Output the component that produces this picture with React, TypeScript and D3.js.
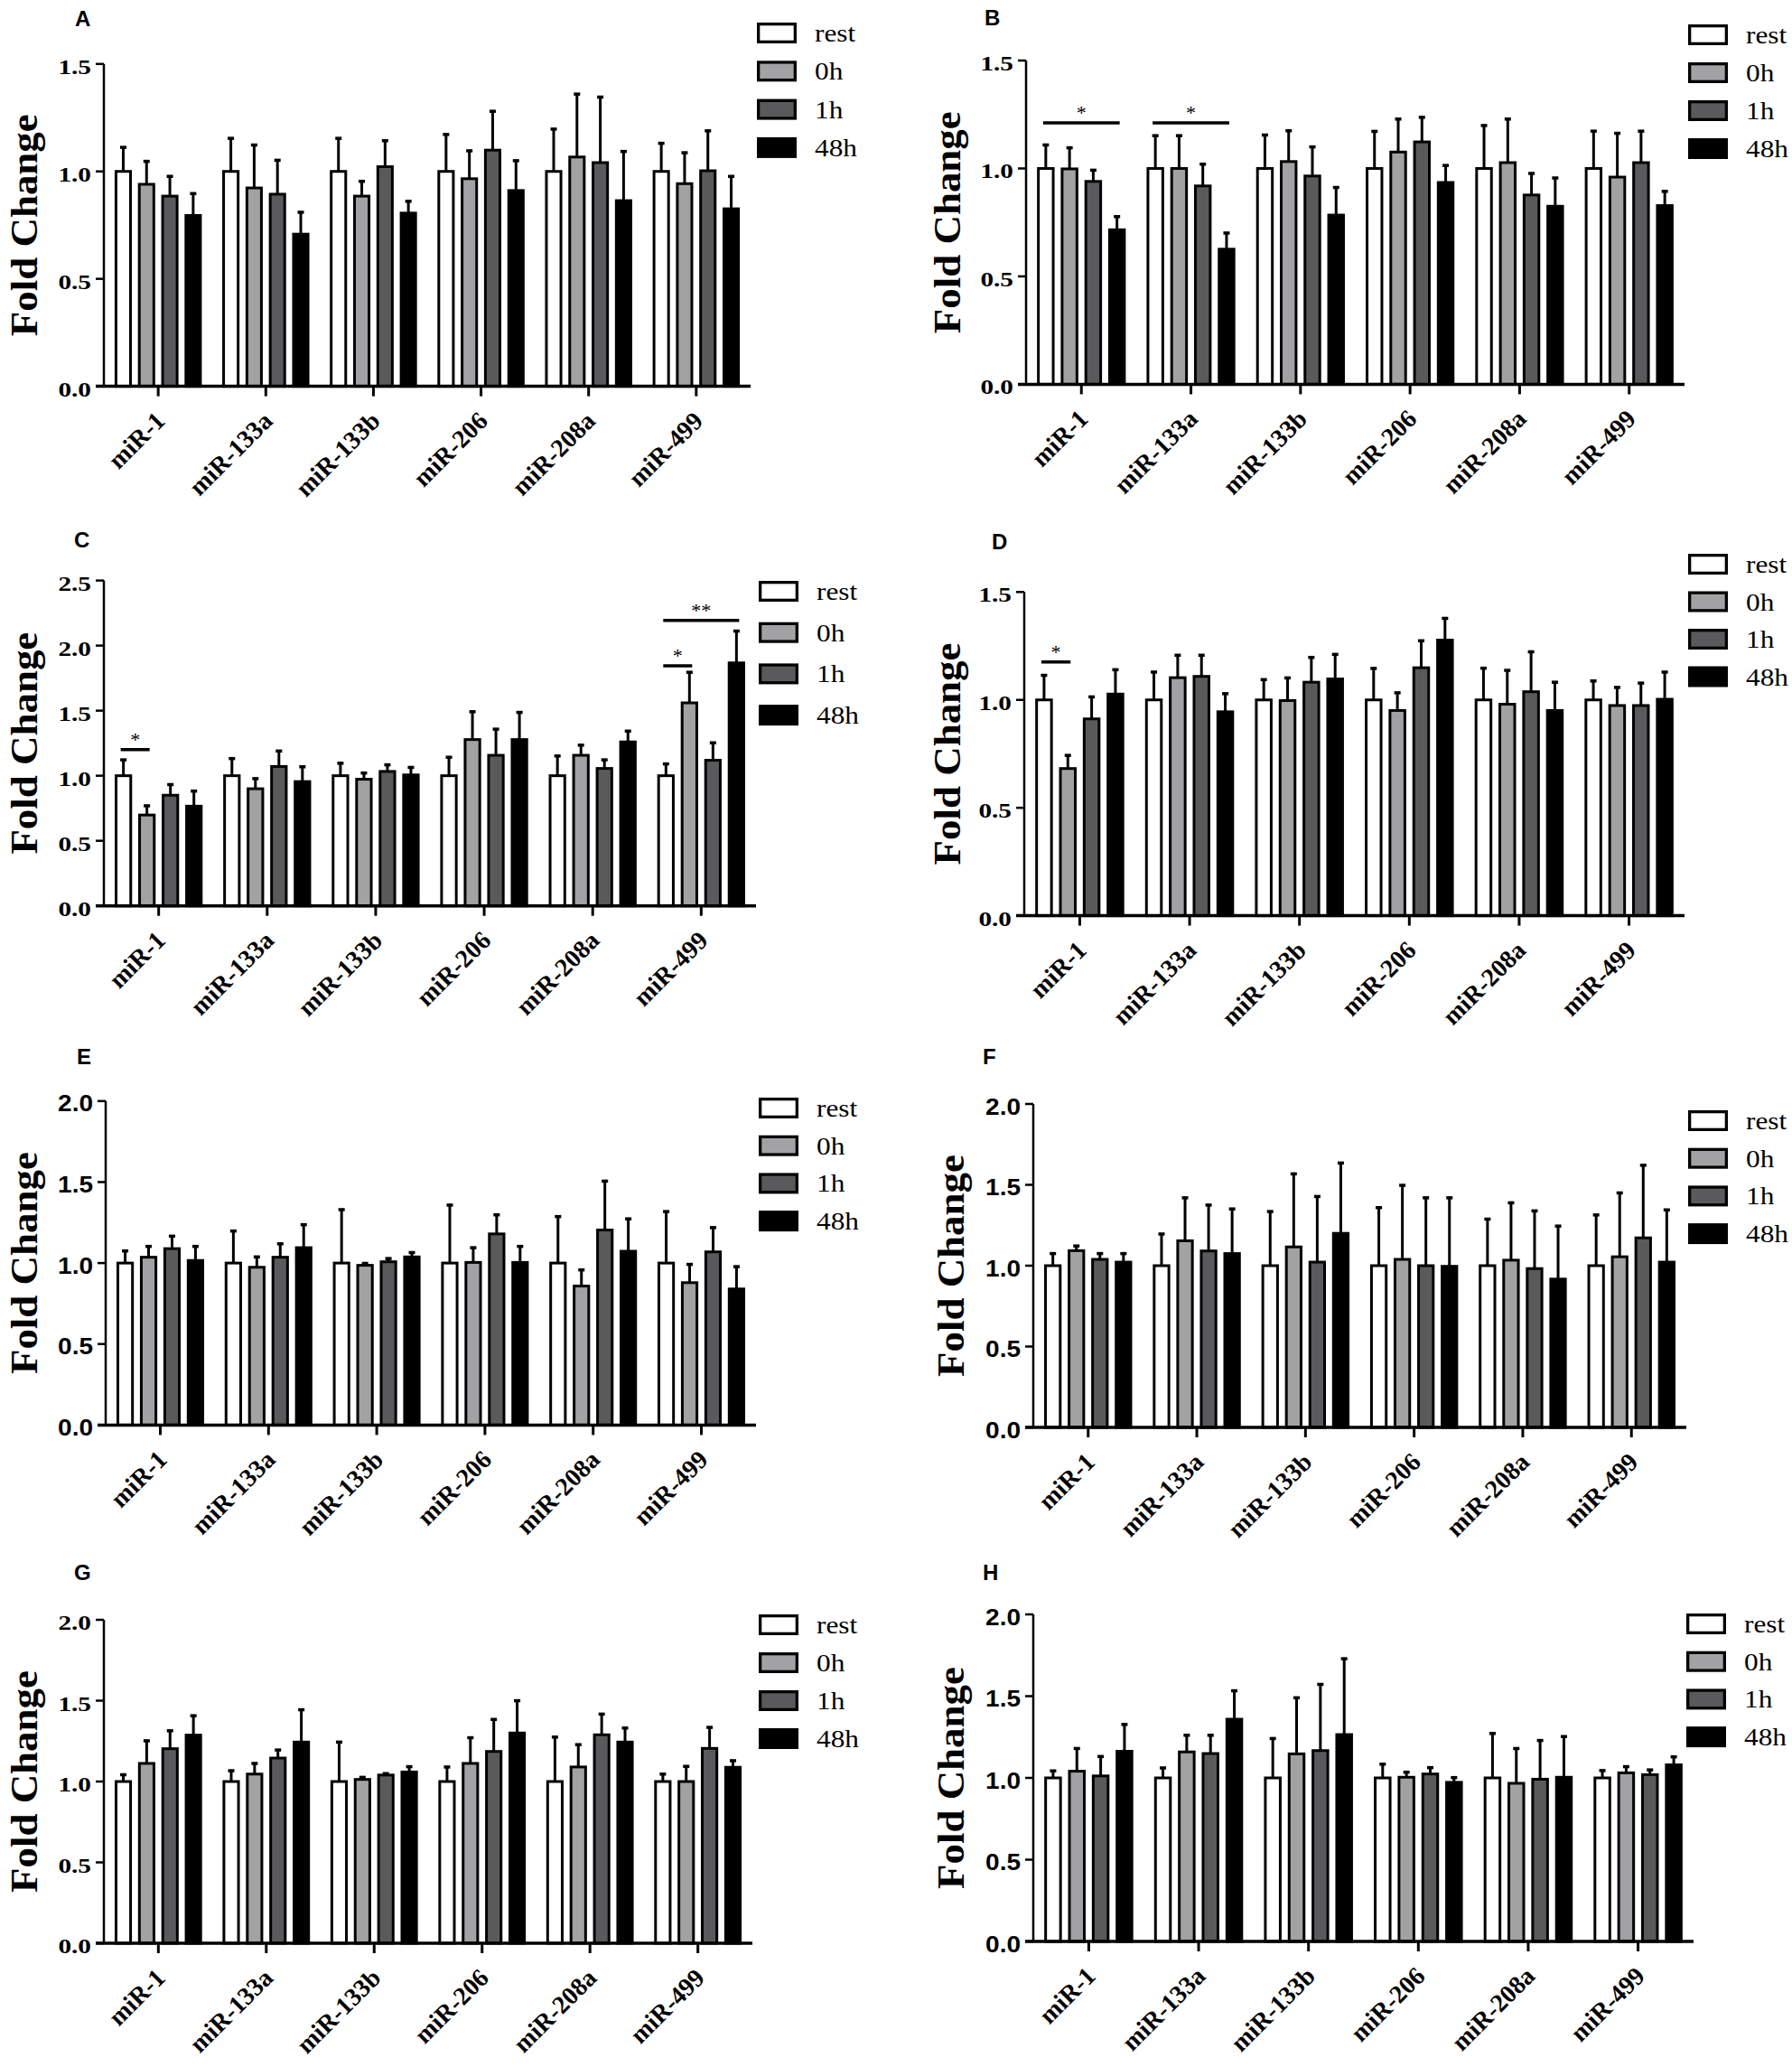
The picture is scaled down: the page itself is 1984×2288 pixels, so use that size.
import React from "react";
import * as d3 from "d3";

// ---- data -------------------------------------------------------------
const categories = ["miR-1", "miR-133a", "miR-133b", "miR-206", "miR-208a", "miR-499"];
const series = ["rest", "0h", "1h", "48h"];
const seriesFill: Record<string, string> = { rest: "#ffffff", "0h": "#a2a2a4", "1h": "#5a5a5c", "48h": "#000000" };

// rows = categories, columns = series (rest, 0h, 1h, 48h)
const meanA = [[1.0, 0.94, 0.885, 0.795], [1.0, 0.923, 0.894, 0.708], [1.0, 0.885, 1.022, 0.806], [1.0, 0.966, 1.099, 0.911], [1.0, 1.067, 1.041, 0.864], [1.0, 0.943, 1.003, 0.826]];
const semA = [[0.115, 0.11, 0.095, 0.105], [0.157, 0.203, 0.161, 0.105], [0.157, 0.072, 0.124, 0.058], [0.175, 0.133, 0.184, 0.142], [0.2, 0.296, 0.308, 0.232], [0.134, 0.147, 0.189, 0.154]];

const meanB = [[1.0, 0.998, 0.94, 0.716], [1.0, 1.0, 0.919, 0.626], [1.0, 1.032, 0.965, 0.784], [1.0, 1.076, 1.123, 0.935], [1.0, 1.027, 0.877, 0.825], [1.0, 0.96, 1.027, 0.828]];
const semB = [[0.112, 0.101, 0.055, 0.064], [0.155, 0.155, 0.104, 0.078], [0.158, 0.146, 0.138, 0.131], [0.175, 0.156, 0.117, 0.082], [0.202, 0.205, 0.103, 0.134], [0.176, 0.206, 0.149, 0.069]];

const meanC = [[1.0, 0.698, 0.85, 0.766], [1.0, 0.9, 1.071, 0.955], [1.0, 0.973, 1.033, 1.006], [1.0, 1.278, 1.157, 1.278], [1.0, 1.157, 1.056, 1.26], [1.0, 1.56, 1.119, 1.867]];
const semC = [[0.127, 0.076, 0.087, 0.121], [0.137, 0.083, 0.124, 0.119], [0.101, 0.053, 0.056, 0.063], [0.147, 0.219, 0.206, 0.214], [0.157, 0.083, 0.071, 0.088], [0.096, 0.24, 0.139, 0.25]];

const meanD = [[1.0, 0.682, 0.912, 1.027], [1.0, 1.103, 1.109, 0.945], [1.0, 0.997, 1.082, 1.097], [1.0, 0.951, 1.149, 1.277], [1.0, 0.98, 1.038, 0.951], [1.0, 0.974, 0.974, 1.003]];
const semD = [[0.117, 0.064, 0.105, 0.116], [0.132, 0.107, 0.101, 0.087], [0.097, 0.108, 0.118, 0.117], [0.149, 0.085, 0.128, 0.104], [0.15, 0.16, 0.188, 0.134], [0.091, 0.087, 0.107, 0.129]];

const meanE = [[1.0, 1.036, 1.089, 1.016], [1.0, 0.974, 1.036, 1.095], [1.0, 0.986, 1.008, 1.038], [1.0, 1.004, 1.18, 1.004], [1.0, 0.858, 1.204, 1.073], [1.0, 0.879, 1.069, 0.84]];
const semE = [[0.079, 0.071, 0.081, 0.091], [0.202, 0.068, 0.087, 0.146], [0.334, 0.016, 0.024, 0.031], [0.362, 0.095, 0.122, 0.103], [0.291, 0.104, 0.306, 0.204], [0.322, 0.117, 0.154, 0.142]];

const meanF = [[1.0, 1.093, 1.039, 1.022], [1.0, 1.154, 1.091, 1.075], [1.0, 1.116, 1.022, 1.2], [1.0, 1.039, 1.0, 0.996], [1.0, 1.034, 0.982, 0.917], [1.0, 1.055, 1.172, 1.022]];
const semF = [[0.079, 0.033, 0.04, 0.057], [0.2, 0.27, 0.288, 0.28], [0.339, 0.456, 0.41, 0.439], [0.363, 0.462, 0.424, 0.428], [0.292, 0.359, 0.361, 0.332], [0.318, 0.399, 0.453, 0.327]];

const meanG = [[1.0, 1.112, 1.203, 1.287], [1.0, 1.046, 1.145, 1.244], [1.0, 1.013, 1.04, 1.059], [1.0, 1.112, 1.186, 1.3], [1.0, 1.09, 1.289, 1.244], [1.0, 1.0, 1.205, 1.088]];
const semG = [[0.046, 0.144, 0.115, 0.124], [0.071, 0.07, 0.054, 0.204], [0.248, 0.017, 0.013, 0.037], [0.094, 0.163, 0.202, 0.204], [0.279, 0.142, 0.132, 0.091], [0.05, 0.098, 0.134, 0.045]];

const meanH = [[1.0, 1.041, 1.012, 1.163], [1.0, 1.159, 1.149, 1.359], [1.0, 1.147, 1.167, 1.265], [1.0, 1.004, 1.024, 0.973], [1.0, 0.967, 0.992, 1.004], [1.0, 1.031, 1.02, 1.08]];
const semH = [[0.047, 0.143, 0.123, 0.168], [0.065, 0.106, 0.116, 0.178], [0.245, 0.347, 0.409, 0.468], [0.088, 0.035, 0.043, 0.033], [0.276, 0.217, 0.241, 0.253], [0.049, 0.042, 0.033, 0.053]];

type Sig = { cat: string; from: string; to: string; y: number; label: string };
const sigB: Sig[] = [
  { cat: "miR-1", from: "rest", to: "48h", y: 1.211, label: "*" },
  { cat: "miR-133a", from: "rest", to: "48h", y: 1.211, label: "*" },
];
const sigC: Sig[] = [
  { cat: "miR-1", from: "rest", to: "0h", y: 1.2, label: "*" },
  { cat: "miR-499", from: "rest", to: "0h", y: 1.845, label: "*" },
  { cat: "miR-499", from: "rest", to: "48h", y: 2.193, label: "**" },
];
const sigD: Sig[] = [{ cat: "miR-1", from: "rest", to: "0h", y: 1.176, label: "*" }];

// ---- layout -----------------------------------------------------------
type Layout = {
  letter: string; axisX: number; xEnd: number; yTop: number; yZero: number; yMax: number;
  letterX: number; letterY: number; legendX: number; legendY: number; legendGap: number;
  titleX: number; sans: boolean;
};

const panels: { layout: Layout; mean: number[][]; sem: number[][]; sig: Sig[] }[] = [
  { mean: meanA, sem: semA, sig: [], layout: { letter: "A", axisX: 115, xEnd: 831, yTop: 70.8, yZero: 427.6, yMax: 1.5, letterX: 83, letterY: 29, legendX: 838, legendY: 25, legendGap: 42.3, titleX: 41, sans: false } },
  { mean: meanB, sem: semB, sig: sigB, layout: { letter: "B", axisX: 1136, xEnd: 1865, yTop: 67, yZero: 425.4, yMax: 1.5, letterX: 1090, letterY: 28, legendX: 1869, legendY: 27, legendGap: 42, titleX: 1063, sans: false } },
  { mean: meanC, sem: semC, sig: sigC, layout: { letter: "C", axisX: 115, xEnd: 837, yTop: 642.6, yZero: 1002.7, yMax: 2.5, letterX: 82, letterY: 606, legendX: 840, legendY: 643, legendGap: 45.7, titleX: 41, sans: false } },
  { mean: meanD, sem: semD, sig: sigD, layout: { letter: "D", axisX: 1134, xEnd: 1865, yTop: 655.3, yZero: 1013.6, yMax: 1.5, letterX: 1098, letterY: 608, legendX: 1869, legendY: 613, legendGap: 41.5, titleX: 1063, sans: false } },
  { mean: meanE, sem: semE, sig: [], layout: { letter: "E", axisX: 117, xEnd: 837, yTop: 1218.8, yZero: 1577.4, yMax: 2.0, letterX: 85, letterY: 1178, legendX: 840, legendY: 1215, legendGap: 41.7, titleX: 41, sans: true } },
  { mean: meanF, sem: semF, sig: [], layout: { letter: "F", axisX: 1144, xEnd: 1867, yTop: 1222, yZero: 1580, yMax: 2.0, letterX: 1088, letterY: 1178, legendX: 1869, legendY: 1229, legendGap: 41.7, titleX: 1067, sans: true } },
  { mean: meanG, sem: semG, sig: [], layout: { letter: "G", axisX: 115, xEnd: 833, yTop: 1793, yZero: 2151, yMax: 2.0, letterX: 82, letterY: 1749, legendX: 840, legendY: 1787, legendGap: 42, titleX: 41, sans: false } },
  { mean: meanH, sem: semH, sig: [], layout: { letter: "H", axisX: 1144, xEnd: 1875, yTop: 1787, yZero: 2149, yMax: 2.0, letterX: 1088, letterY: 1749, legendX: 1867, legendY: 1786, legendGap: 41.7, titleX: 1067, sans: true } },
];

const SERIF = "'Liberation Serif', 'Times New Roman', serif";
const SANS = "'Liberation Sans', Arial, sans-serif";

function Panel({ layout: L, mean, sem, sig }: { layout: Layout; mean: number[][]; sem: number[][]; sig: Sig[] }) {
  const x0 = d3.scaleBand<string>().domain(categories).range([L.axisX, L.xEnd]).paddingInner(0.19).paddingOuter(0.1);
  const x1 = d3.scaleBand<string>().domain(series).range([0, x0.bandwidth()]).paddingInner(0.26);
  const y = d3.scaleLinear().domain([0, L.yMax]).range([L.yZero, L.yTop]);
  const ticks = d3.range(0, L.yMax + 0.001, 0.5);
  const bw = x1.bandwidth();
  const fmt = d3.format(".1f");
  const cx = (c: string, s: string) => (x0(c) ?? 0) + (x1(s) ?? 0) + bw / 2;

  return (
    <g>
      <text x={L.letterX} y={L.letterY} fontFamily={SANS} fontWeight="bold" fontSize={24}>{L.letter}</text>
      <text transform={`translate(${L.titleX},${(L.yTop + L.yZero) / 2}) rotate(-90) scale(1.07,1)`} textAnchor="middle"
            fontFamily={SERIF} fontWeight="bold" fontSize={42}>Fold Change</text>

      {/* bars */}
      {categories.map((c, i) => (
        <g key={c}>
          {series.map((s, j) => {
            const m = mean[i][j];
            const top = y(m + sem[i][j]);
            const x = cx(c, s);
            return (
              <g key={s}>
                <line x1={x} x2={x} y1={y(m)} y2={top} stroke="#000" strokeWidth={3} />
                <rect x={x - 3.5} y={top - 1} width={7} height={3.5} fill="#000" />
                <rect x={x - bw / 2 + 1.5} y={y(m)} width={bw - 3} height={L.yZero - y(m)} fill={seriesFill[s]} stroke="#000" strokeWidth={3} />
              </g>
            );
          })}
        </g>
      ))}

      {/* significance */}
      {sig.map((d, i) => {
        const xa = cx(d.cat, d.from) - 3;
        const xb = cx(d.cat, d.to) + 3;
        return (
          <g key={i}>
            <line x1={xa} x2={xb} y1={y(d.y)} y2={y(d.y)} stroke="#000" strokeWidth={3.5} />
            <text x={(xa + xb) / 2} y={y(d.y) - 4} textAnchor="middle" fontFamily={SERIF} fontSize={22}>{d.label}</text>
          </g>
        );
      })}

      {/* y axis */}
      <line x1={L.axisX} x2={L.axisX} y1={L.yZero} y2={L.yTop} stroke="#000" strokeWidth={2.5} />
      {ticks.map((t) => (
        <g key={t}>
          <line x1={L.axisX - 9} x2={L.axisX} y1={y(t)} y2={y(t)} stroke="#000" strokeWidth={2.5} />
          <text transform={`translate(${L.axisX - 14},${y(t) + (L.sans ? 11.5 : 11)}) scale(${L.sans ? 1.12 : 1.3},1)`} textAnchor="end"
                fontFamily={L.sans ? SANS : SERIF} fontWeight="bold" fontSize={L.sans ? 25 : 22.5}>{fmt(t)}</text>
        </g>
      ))}

      {/* x axis */}
      <line x1={L.axisX - 9} x2={L.xEnd} y1={L.yZero} y2={L.yZero} stroke="#000" strokeWidth={3.5} />
      {categories.map((c) => {
        const x = (x0(c) ?? 0) + x0.bandwidth() / 2;
        return (
          <g key={c}>
            <line x1={x} x2={x} y1={L.yZero} y2={L.yZero + 11} stroke="#000" strokeWidth={3} />
            <text transform={`translate(${x + 9},${L.yZero + 40}) rotate(-45)`} textAnchor="end"
                  fontFamily={SERIF} fontWeight="bold" fontSize={28}>{c}</text>
          </g>
        );
      })}

      {/* legend */}
      {series.map((s, i) => {
        const top = L.legendY + i * L.legendGap;
        return (
          <g key={s}>
            <rect x={L.legendX + 1.65} y={top + 1.65} width={40.7} height={19.7} fill={seriesFill[s]} stroke="#000" strokeWidth={3.3} />
            <text transform={`translate(${L.legendX + 64},${top + 21}) scale(1.16,1)`} fontFamily={SERIF} fontSize={27}>{s}</text>
          </g>
        );
      })}
    </g>
  );
}

export default function App() {
  return (
    <svg width={1984} height={2288} viewBox="0 0 1984 2288" style={{ position: "absolute", left: 0, top: 0, background: "#fff" }}>
      <rect width={1984} height={2288} fill="#fff" />
      {panels.map((p) => (
        <Panel key={p.layout.letter} layout={p.layout} mean={p.mean} sem={p.sem} sig={p.sig} />
      ))}
    </svg>
  );
}
